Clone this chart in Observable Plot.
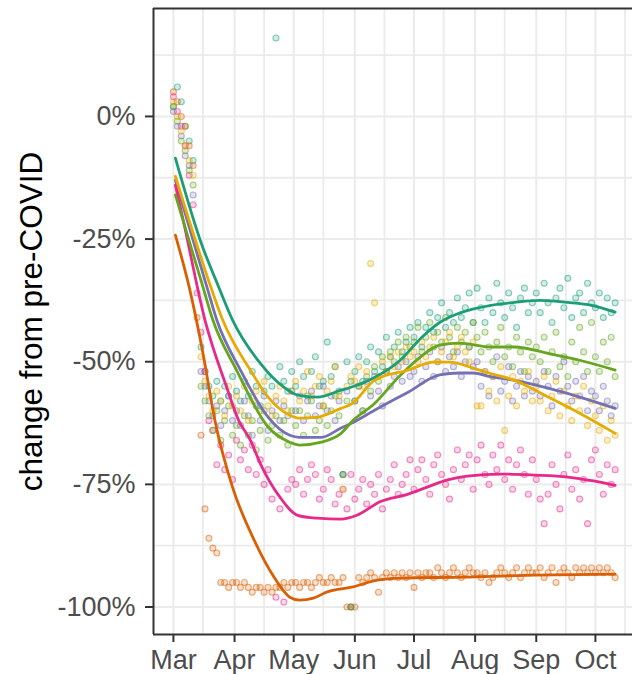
<!DOCTYPE html>
<html><head><meta charset="utf-8">
<script src="https://cdn.jsdelivr.net/npm/d3@7"></script>
<script src="https://cdn.jsdelivr.net/npm/@observablehq/plot@0.6"></script>
<style>html,body{margin:0;padding:0;background:#fff;} #chart{width:632px;height:674px;overflow:hidden;}</style>
</head><body><div id="chart"></div>
<script>
// ---- data (days counted from 2020-03-01) ----
const seriesNames = ["s1", "s2", "s3", "s4", "s5", "s6"];
const seriesColors = ["#1B9E77", "#D95F02", "#7570B3", "#E7298A", "#66A61E", "#E6AB02"];
const pointStartDate = "2020-03-01";
const pointStepDays = 2;
const yTitle = "change from pre-COVID";
const monthTicks = ["2020-03-01","2020-04-01","2020-05-01","2020-06-01","2020-07-01","2020-08-01","2020-09-01","2020-10-01"];
const minorMonthTicks = ["2020-03-16","2020-04-16","2020-05-16","2020-06-16","2020-07-16","2020-08-16","2020-09-16","2020-10-16"];
const yTicks = [0, -25, -50, -75, -100];
const yMinorTicks = [12.5, -12.5, -37.5, -62.5, -87.5];

// daily observations (every 2nd day), series s1 (teal)
const s1Points = [
  2, 6, 3, -2, -5, -9, null, -47, -52, -55, -57, -54, -58, -55, -57, -53,
  -56, -58, -54, -57, -52, -55, -59, -56, -53, -55, 16, -51, -54, -56, -52,
  -55, -50, -53, -57, -52, -49, -55, -54, -46, -53, -51, -56, -73, -50, -54,
  -52, -49, -54, -50, -47, -52, -48, -51, -45, -49, -47, -44, -48, -46, -43,
  -45, -42, -47, -43, -40, -44, -41, -38, -43, -40, -42, -37, -41, -39, -36, -42,
  -35, -39, -42, -37, -40, -34, -38, -41, -36, -39, -43, -37, -35, -40, -38,
  -36, -40, -34, -38, -42, -37, -35, -39, -33, -41, -37, -36, -40, -34, -38,
  -39, -36, -41, -37, -40, -38
];
// s2 (orange)
const s2Points = [
  5, 3, 0, -2, -6, -10, -41, -65, -80, -86, -88, -89, -95, -95, -96, -95,
  -95, -96, -95, -96, -97, -96, -96, -97, -96, -97, -96, -96, -95, -96, -95,
  -95, -96, -95, -95, -96, -95, -94, -95, -95, -94, -95, -95, -94, -100, -100,
  -100, -94, -95, -94, -93, -94, -97, -94, -93, -94, -93, -94, -93, -94, -93,
  -96, -93, -94, -93, -93, -94, -92, -93, -94, -93, -92, -93, -94, -93, -92, -93,
  -93, -94, -93, -95, -94, -93, -92, -93, -94, -93, -92, -94, -93, -92, -93,
  -93, -92, -94, -93, -92, -95, -93, -92, -93, -94, -92, -93, -92, -93, -92,
  -93, -92, -93, -92, -93, -94
];
// s3 (purple)
const s3Points = [
  1, -2, -4, -8, -10, -16, null, -52, -55, -58, -61, -59, -63, -60, -57, -62,
  -60, -63, -58, -61, -65, -59, -62, -57, -64, -60, -58, -62, -59, -61, -56,
  -60, -57, -62, -58, -56, -61, -59, -55, -60, -57, -62, -58, -73, -56, -100,
  -58, -55, -60, -54, -57, -53, -56, -59, -52, -55, -53, -51, -54, -50, -53,
  -52, -49, -54, -51, -48, -53, -50, -47, -52, -49, -51, -48, -53, -50, -47, -51,
  -50, -55, -52, -57, -53, -49, -56, -54, -51, -58, -55, -52, -57, -53, -56,
  -54, -57, -52, -55, -59, -53, -56, -50, -55, -58, -54, -57, -53, -60, -56,
  -57, -60, -55, -58, -61, -59
];
// s4 (pink)
const s4Points = [
  4, 1, -2, -6, -12, -18, -36, -44, -52, -62, -64, -71, -67, -72, -69, -74,
  -66, -70, -68, -72, -67, -73, -70, -75, -72, -78, -98, -80, -99, -76, -74,
  -75, -72, -77, -74, -71, -73, -78, -76, -72, -74, -79, -77, -76, -80, -73,
  -78, -76, -74, -79, -75, -77, -73, -80, -76, -74, -71, -77, -75, -73, -70,
  -76, -72, -70, -74, -77, -71, -69, -73, -75, -78, -72, -68, -74, -71, -69, -76,
  -70, -67, -73, -75, -69, -72, -67, -74, -70, -76, -71, -68, -73, -77, -70,
  -74, -78, -83, -77, -71, -75, -80, -73, -69, -76, -72, -78, -74, -83, -70,
  -68, -73, -77, -71, -75, -72
];
// s5 (green)
const s5Points = [
  2, -1, -5, -7, -11, -14, null, -55, -58, -61, -64, -60, -66, -62, -59, -65,
  -63, -67, -61, -65, -62, -68, -64, -60, -66, -63, -61, -65, -62, -67, -60,
  -63, -60, -65, -61, -58, -64, -62, -59, -63, -60, -57, -61, -73, -58, -100,
  -58, -55, -60, -53, -56, -51, -54, -49, -52, -48, -50, -46, -49, -45, -47,
  -46, -43, -48, -45, -42, -47, -44, -46, -41, -45, -48, -43, -46, -44, -47, -42,
  -45, -48, -44, -47, -50, -46, -43, -49, -47, -51, -45, -48, -52, -46, -49,
  -47, -50, -45, -52, -48, -44, -51, -49, -53, -46, -50, -43, -48, -52, -42,
  -49, -52, -46, -50, -45, -53
];
// s6 (yellow)
const s6Points = [
  3, 0, -3, -6, -9, -12, null, -49, -54, -57, -60, -56, -58, -61, -55, -59,
  -57, -60, -55, -62, -58, -56, -60, -54, -59, -61, -57, -55, -58, -60, -56,
  -54, -58, -56, -52, -57, -55, -53, -59, -56, -54, -51, -57, -76, -55, -53,
  -54, -51, -55, -52, -30, -38, -53, -50, -52, -49, -51, -48, -50, -47, -49,
  -48, -50, -46, -49, -47, -45, -50, -48, -46, -44, -49, -47, -45, -48, -50, -46,
  -59, -59, -52, -56, -53, -58, -51, -64, -57, -53, -59, -54, -56, -52, -58,
  -55, -58, -53, -60, -57, -54, -61, -56, -59, -62, -57, -60, -55, -63, -58,
  -61, -64, -59, -66, -62, -65
];

// smoothed trend lines [day, value]
const s1Line = [[1,-8.5],[14,-25.7],[23,-34.8],[30,-41.5],[44,-50.3],[56,-55.2],[63,-56.8],[73,-57.2],[85,-55.8],[90,-55.2],[102,-53.2],[115,-49.7],[126,-45],[135,-42],[145,-40.1],[161,-38.5],[173,-37.9],[186,-37.5],[200,-37.9],[212,-38.5],[224,-39.9]];
const s2Line = [[1,-24.2],[8,-34.8],[15,-48.3],[21,-61.9],[30,-75.6],[41,-86.4],[51,-93.9],[59,-98],[64,-98.6],[71,-98.2],[78,-96.9],[85,-96.3],[91,-95.9],[101,-94.7],[115,-94.1],[149,-93.9],[183,-93.5],[224,-93.3]];
const s3Line = [[1,-13],[17,-34.8],[22,-41.5],[34,-51.7],[48,-61.3],[59,-65],[64,-65.4],[75,-65.4],[85,-63.5],[90,-62.6],[102,-59.9],[119,-56.2],[135,-52.7],[145,-52.3],[152,-52.3],[160,-53],[173,-53.8],[190,-55.4],[206,-57.2],[224,-59.5]];
const s4Line = [[1,-14],[5,-21.2],[16,-41.5],[27,-55.2],[33,-61.9],[39,-66],[44,-70.7],[54,-77.6],[63,-81.3],[73,-81.9],[85,-82.1],[93,-81.3],[105,-78.5],[119,-77],[129,-75.5],[139,-74.1],[149,-73.3],[166,-72.9],[183,-73.1],[200,-73.5],[213,-74.3],[224,-75.2]];
const s5Line = [[1,-16],[15,-34.8],[20,-41.5],[32,-51.7],[48,-63.3],[59,-66.4],[64,-67],[75,-66.4],[85,-64.6],[91,-62],[102,-58.5],[114,-53.2],[125,-49.1],[135,-46.6],[145,-46.2],[161,-47],[173,-47],[190,-48.3],[206,-49.7],[224,-51.7]];
const s6Line = [[1,-12.2],[19,-34.8],[25,-41.5],[39,-51.7],[48,-57.2],[59,-60.9],[64,-61.5],[73,-61.3],[85,-59.5],[90,-58.7],[102,-53.8],[119,-51.7],[132,-50.1],[140,-50.1],[152,-51.3],[160,-52.3],[173,-53.8],[190,-57.2],[206,-60.5],[224,-64.6]];

// ---- build tables ----
const t0 = Date.parse(pointStartDate + "T00:00:00Z");
const dayDate = d => new Date(t0 + d * 864e5);
const pointArrays = [s1Points, s2Points, s3Points, s4Points, s5Points, s6Points];
const lineArrays = [s1Line, s2Line, s3Line, s4Line, s5Line, s6Line];
const dots = [];
pointArrays.forEach((arr, k) => arr.forEach((v, i) => {
  if (v !== null) dots.push({date: dayDate(i * pointStepDays), value: v, series: seriesNames[k]});
}));
const lines = [];
lineArrays.forEach((arr, k) => arr.forEach(([d, v]) => lines.push({date: dayDate(d), value: v, series: seriesNames[k]})));
const toUTC = s => new Date(s + "T00:00:00Z");
const xMin = dayDate(-10.1), xMax = dayDate(232.8);
const yMin = -105.6, yMax = 22;

const font = "'Liberation Sans', Arial, Helvetica, sans-serif";
const chart = Plot.plot({
  width: 632, height: 674,
  marginLeft: 153, marginRight: 0, marginTop: 8, marginBottom: 40,
  style: {fontFamily: font, fontSize: "27px", background: "#fff", overflow: "visible"},
  x: {type: "utc", domain: [xMin, xMax]},
  y: {domain: [yMin, yMax]},
  color: {domain: seriesNames, range: seriesColors},
  marks: [
    Plot.gridX(minorMonthTicks.map(toUTC), {stroke: "#ebebeb", strokeOpacity: 1, strokeWidth: 1.8}),
    Plot.gridX(monthTicks.map(toUTC), {stroke: "#ebebeb", strokeOpacity: 1, strokeWidth: 2}),
    Plot.gridY(yMinorTicks, {stroke: "#ebebeb", strokeOpacity: 1, strokeWidth: 1.8}),
    Plot.gridY(yTicks, {stroke: "#ebebeb", strokeOpacity: 1, strokeWidth: 2}),
    Plot.dot(dots, {x: "date", y: "value", r: 3, fill: "series", stroke: "series", fillOpacity: 0.2, strokeOpacity: 0.5, strokeWidth: 1.1}),
    Plot.line(lines, {x: "date", y: "value", z: "series", stroke: "series", strokeWidth: 2.8, curve: "monotone-x"}),
    Plot.ruleY([yMax], {stroke: "#333", strokeWidth: 2}),
    Plot.ruleY([yMin], {stroke: "#333", strokeWidth: 2}),
    Plot.ruleX([xMin], {stroke: "#333", strokeWidth: 2}),
    Plot.axisX(monthTicks.map(toUTC), {tickFormat: d3.utcFormat("%b"), tickSize: 8, tickPadding: 7, stroke: "#333", strokeWidth: 2, fill: "#4d4d4d", fontSize: 27, label: null}),
    Plot.axisY(yTicks, {tickFormat: d => d + "%", tickSize: 8, tickPadding: 10, stroke: "#333", strokeWidth: 2, fill: "#4d4d4d", fontSize: 27, label: null}),
    Plot.text([yTitle], {text: d => d, frameAnchor: "left", textAnchor: "middle", lineAnchor: "middle", dx: -121.5, rotate: -90, fontSize: 31.5, fill: "#000"})
  ]
});
document.getElementById("chart").appendChild(chart);
</script>
</body></html>
